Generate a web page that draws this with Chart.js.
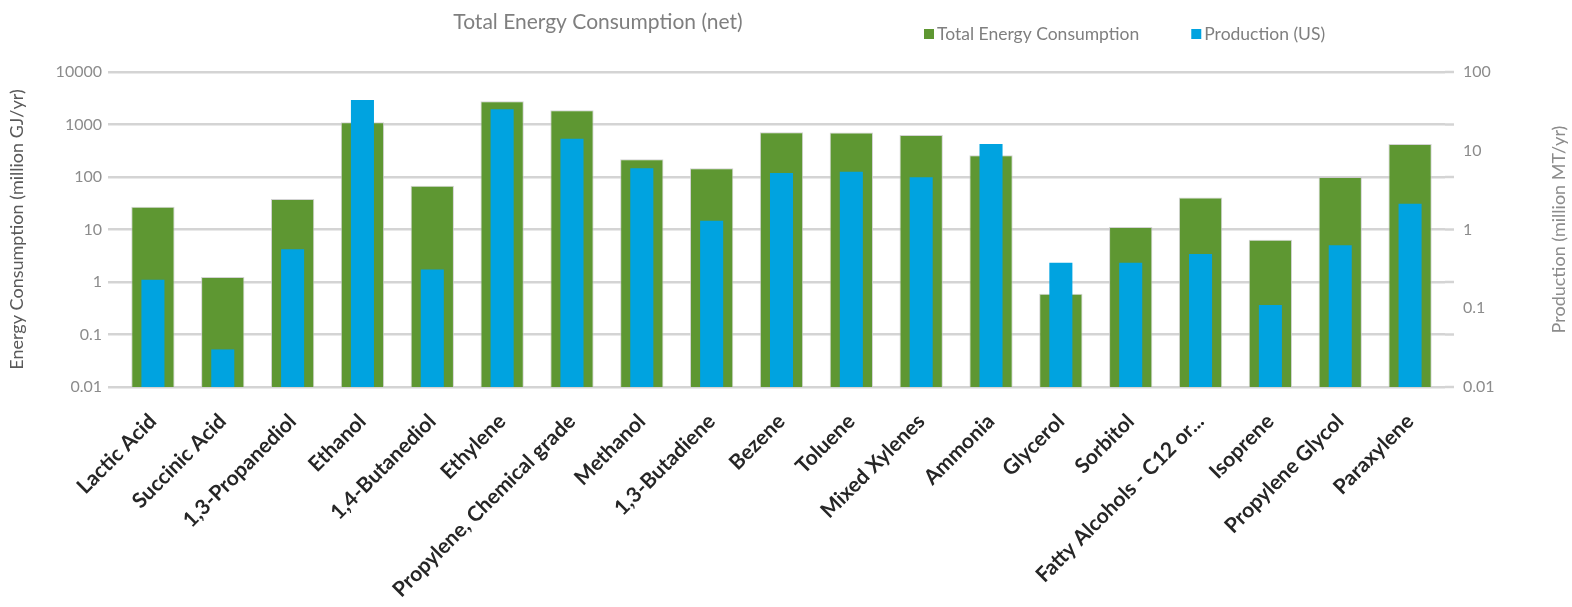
<!DOCTYPE html>
<html>
<head>
<meta charset="utf-8">
<title>Total Energy Consumption (net)</title>
<script src="https://cdn.jsdelivr.net/npm/chart.js@4.4.1/dist/chart.umd.min.js"></script>
<style>
  html, body { margin: 0; padding: 0; background: #fff; }
  #wrap { position: relative; width: 1572px; height: 607px; }
</style>
</head>
<body>
<div id="wrap"><canvas id="energy-chart"></canvas></div>
<script>
const categories = [
  "Lactic Acid", "Succinic Acid", "1,3-Propanediol", "Ethanol", "1,4-Butanediol",
  "Ethylene", "Propylene, Chemical grade", "Methanol", "1,3-Butadiene", "Bezene",
  "Toluene", "Mixed Xylenes", "Ammonia", "Glycerol", "Sorbitol",
  "Fatty Alcohols - C12 or...", "Isoprene", "Propylene Glycol", "Paraxylene"
];
// million GJ/yr (left axis)
const energyConsumption = [
  27, 1.24, 38, 1100, 68,
  2770, 1870, 218, 147, 712,
  705, 633, 260, 0.6, 11.1,
  40.6, 6.35, 100, 427
];
// million MT/yr (right axis)
const productionUS = [
  0.23, 0.03, 0.56, 44, 0.31,
  33.7, 14.2, 6.0, 1.29, 5.2,
  5.4, 4.6, 12.2, 0.377, 0.377,
  0.49, 0.11, 0.63, 2.12
];
const leftTicks = [0.01, 0.1, 1, 10, 100, 1000, 10000];
const rightTicks = [0.01, 0.1, 1, 10, 100];

const GREEN = '#5e9732';
const BLUE = '#00a3e0';
const GRID = '#d4d4d4';
const FONT = 'Lato, "Open Sans", sans-serif';

// title, legend, right axis title and the gridline stubs past the plot
const chartDecor = {
  id: 'chartDecor',
  afterDraw(chart) {
    const ctx = chart.ctx;
    const area = chart.chartArea;
    const yScale = chart.scales.y;
    ctx.save();

    // stubs on the right side of each gridline
    ctx.strokeStyle = GRID;
    ctx.lineWidth = 2.5;
    yScale.ticks.forEach(t => {
      const py = yScale.getPixelForValue(t.value);
      ctx.beginPath();
      ctx.moveTo(area.right, py);
      ctx.lineTo(area.right + 9, py);
      ctx.stroke();
    });

    ctx.fillStyle = '#7f7f7f';
    ctx.textBaseline = 'middle';
    ctx.textAlign = 'center';
    ctx.font = '21px ' + FONT;
    ctx.fillText('Total Energy Consumption (net)', 598, 22);

    // legend
    ctx.font = '17.5px ' + FONT;
    ctx.textAlign = 'left';
    let x = 924;
    const ly = 34;
    chart.data.datasets.forEach(ds => {
      ctx.fillStyle = ds.backgroundColor;
      ctx.fillRect(x, ly - 5, 10, 10);
      ctx.fillStyle = '#7f7f7f';
      ctx.fillText(ds.label, x + 13, ly);
      x += 13 + ctx.measureText(ds.label).width + 52;
    });

    // right axis title, reading bottom to top
    ctx.translate(1559, (area.top + area.bottom) / 2);
    ctx.rotate(-Math.PI / 2);
    ctx.textAlign = 'center';
    ctx.fillStyle = '#8c8c8c';
    ctx.font = '18px ' + FONT;
    ctx.fillText('Production (million MT/yr)', 0, 0);
    ctx.restore();
  }
};

new Chart(document.getElementById('energy-chart'), {
  type: 'bar',
  data: {
    labels: categories,
    datasets: [
      {
        label: 'Total Energy Consumption',
        data: energyConsumption,
        backgroundColor: GREEN,
        borderColor: 'rgba(200,200,200,0.8)',
        borderWidth: 1,
        yAxisID: 'y',
        grouped: false,
        categoryPercentage: 1,
        barPercentage: 0.62,
        order: 2
      },
      {
        label: 'Production (US)',
        data: productionUS,
        backgroundColor: BLUE,
        yAxisID: 'y2',
        grouped: false,
        categoryPercentage: 1,
        barPercentage: 0.33,
        order: 1
      }
    ]
  },
  options: {
    responsive: true,
    maintainAspectRatio: false,
    animation: false,
    layout: { padding: { top: 72, left: 0, right: 0, bottom: 0 } },
    plugins: {
      legend: { display: false },
      title: { display: false },
      tooltip: { enabled: true }
    },
    scales: {
      x: {
        grid: { display: false },
        border: { display: false },
        ticks: {
          autoSkip: false,
          minRotation: 45,
          maxRotation: 45,
          padding: 14,
          color: '#262626',
          font: { family: FONT, size: 21, weight: 'bold' }
        },
        afterFit(scale) { scale.height = 220; }
      },
      y: {
        type: 'logarithmic',
        position: 'left',
        min: 0.01,
        max: 10000,
        afterBuildTicks(scale) { scale.ticks = leftTicks.map(v => ({ value: v })); },
        ticks: {
          color: '#8c8c8c',
          padding: 6,
          font: { family: FONT, size: 16 },
          callback: v => String(v)
        },
        grid: { color: GRID, lineWidth: 2.5, tickLength: 10, tickColor: GRID },
        border: { display: false },
        title: {
          display: true,
          text: 'Energy Consumption (million GJ/yr)',
          color: '#595959',
          font: { family: FONT, size: 18 },
          padding: { top: 6, bottom: 4 }
        },
        afterFit(scale) { scale.width = 118; }
      },
      y2: {
        type: 'logarithmic',
        position: 'right',
        min: 0.01,
        max: 100,
        afterBuildTicks(scale) { scale.ticks = rightTicks.map(v => ({ value: v })); },
        ticks: {
          color: '#8c8c8c',
          padding: 18,
          font: { family: FONT, size: 16 },
          callback: v => String(v)
        },
        grid: { drawOnChartArea: false, drawTicks: false },
        border: { display: false },
        afterFit(scale) { scale.width = 127; }
      }
    }
  },
  plugins: [chartDecor]
});
</script>
</body>
</html>
